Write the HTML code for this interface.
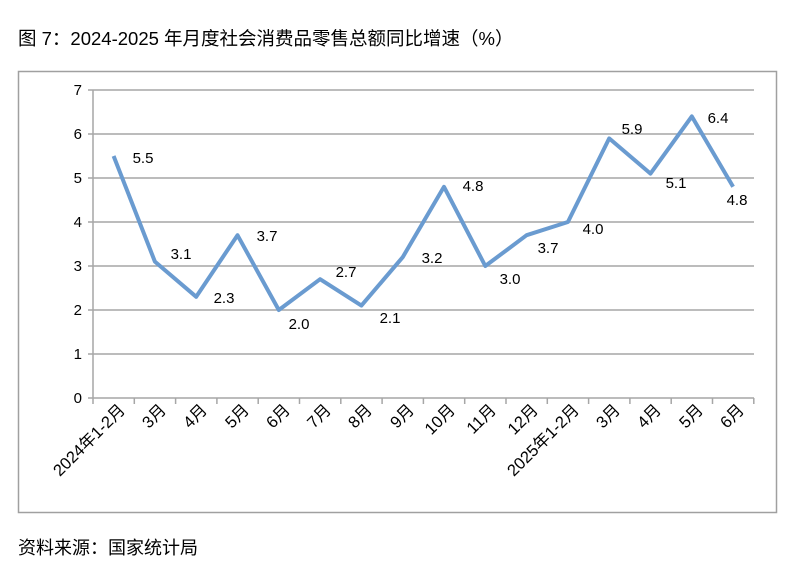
<!DOCTYPE html>
<html><head><meta charset="utf-8"><style>
body{margin:0;background:#fff;}
text{font-family:"Liberation Sans","Noto Sans CJK SC",sans-serif;fill:#000;}
</style></head><body>
<svg width="800" height="576" xmlns="http://www.w3.org/2000/svg">
<text x="18" y="45" font-size="18.5">图 7：2024-2025 年月度社会消费品零售总额同比增速（%）</text>
<rect x="18.5" y="71.5" width="758" height="441" fill="none" stroke="#a0a0a0" stroke-width="1.5"/>
<g stroke="#a6a6a6" stroke-width="1.5">
<line x1="88" y1="90" x2="754" y2="90"/>
<line x1="88" y1="134" x2="754" y2="134"/>
<line x1="88" y1="178" x2="754" y2="178"/>
<line x1="88" y1="222" x2="754" y2="222"/>
<line x1="88" y1="266" x2="754" y2="266"/>
<line x1="88" y1="310" x2="754" y2="310"/>
<line x1="88" y1="354" x2="754" y2="354"/>
<line x1="88" y1="398" x2="754" y2="398"/>
<line x1="93" y1="90" x2="93" y2="398"/>
</g>
<g font-size="15" text-anchor="end">
<text x="82" y="95">7</text><text x="82" y="139">6</text><text x="82" y="183">5</text><text x="82" y="227">4</text>
<text x="82" y="271">3</text><text x="82" y="315">2</text><text x="82" y="359">1</text><text x="82" y="403">0</text>
</g>
<polyline fill="none" stroke="#6a9bd0" stroke-width="4" stroke-linejoin="round" points="113.6,156 154.9,261.6 196.2,296.8 237.5,235.2 278.8,310 320.1,279.2 361.4,305.6 402.7,257.2 444,186.8 485.3,266 526.6,235.2 567.9,222 609.2,138.4 650.5,173.6 691.8,116.4 733.1,186.8"/>
<g font-size="15" text-anchor="middle">
<text x="143" y="163">5.5</text><text x="181" y="259">3.1</text><text x="224" y="303">2.3</text><text x="267" y="241">3.7</text>
<text x="299" y="329">2.0</text><text x="346" y="277">2.7</text><text x="390" y="323">2.1</text><text x="432" y="263">3.2</text>
<text x="473" y="191">4.8</text><text x="510" y="284">3.0</text><text x="548" y="253">3.7</text><text x="593" y="234">4.0</text>
<text x="632" y="134">5.9</text><text x="676" y="188">5.1</text><text x="718" y="123">6.4</text><text x="737" y="205">4.8</text>
</g>
<g stroke="#a6a6a6" stroke-width="1.5">
<line x1="93" y1="398" x2="93" y2="404"/><line x1="134.3" y1="398" x2="134.3" y2="404"/><line x1="175.6" y1="398" x2="175.6" y2="404"/><line x1="216.9" y1="398" x2="216.9" y2="404"/>
<line x1="258.2" y1="398" x2="258.2" y2="404"/><line x1="299.5" y1="398" x2="299.5" y2="404"/><line x1="340.8" y1="398" x2="340.8" y2="404"/><line x1="382.1" y1="398" x2="382.1" y2="404"/>
<line x1="423.4" y1="398" x2="423.4" y2="404"/><line x1="464.7" y1="398" x2="464.7" y2="404"/><line x1="506" y1="398" x2="506" y2="404"/><line x1="547.3" y1="398" x2="547.3" y2="404"/>
<line x1="588.6" y1="398" x2="588.6" y2="404"/><line x1="629.9" y1="398" x2="629.9" y2="404"/><line x1="671.2" y1="398" x2="671.2" y2="404"/><line x1="712.5" y1="398" x2="712.5" y2="404"/><line x1="753.8" y1="398" x2="753.8" y2="404"/>
</g>
<g font-size="16.5" text-anchor="end">
<text transform="translate(126,411) rotate(-45)">2024年1-2月</text>
<text transform="translate(167,411) rotate(-45)">3月</text>
<text transform="translate(208,411) rotate(-45)">4月</text>
<text transform="translate(250,411) rotate(-45)">5月</text>
<text transform="translate(291,411) rotate(-45)">6月</text>
<text transform="translate(332,411) rotate(-45)">7月</text>
<text transform="translate(373,411) rotate(-45)">8月</text>
<text transform="translate(415,411) rotate(-45)">9月</text>
<text transform="translate(456,411) rotate(-45)">10月</text>
<text transform="translate(497,411) rotate(-45)">11月</text>
<text transform="translate(539,411) rotate(-45)">12月</text>
<text transform="translate(580,411) rotate(-45)">2025年1-2月</text>
<text transform="translate(621,411) rotate(-45)">3月</text>
<text transform="translate(662,411) rotate(-45)">4月</text>
<text transform="translate(704,411) rotate(-45)">5月</text>
<text transform="translate(745,411) rotate(-45)">6月</text>
</g>
<text x="18" y="554" font-size="18">资料来源：国家统计局</text>
</svg>
</body></html>
